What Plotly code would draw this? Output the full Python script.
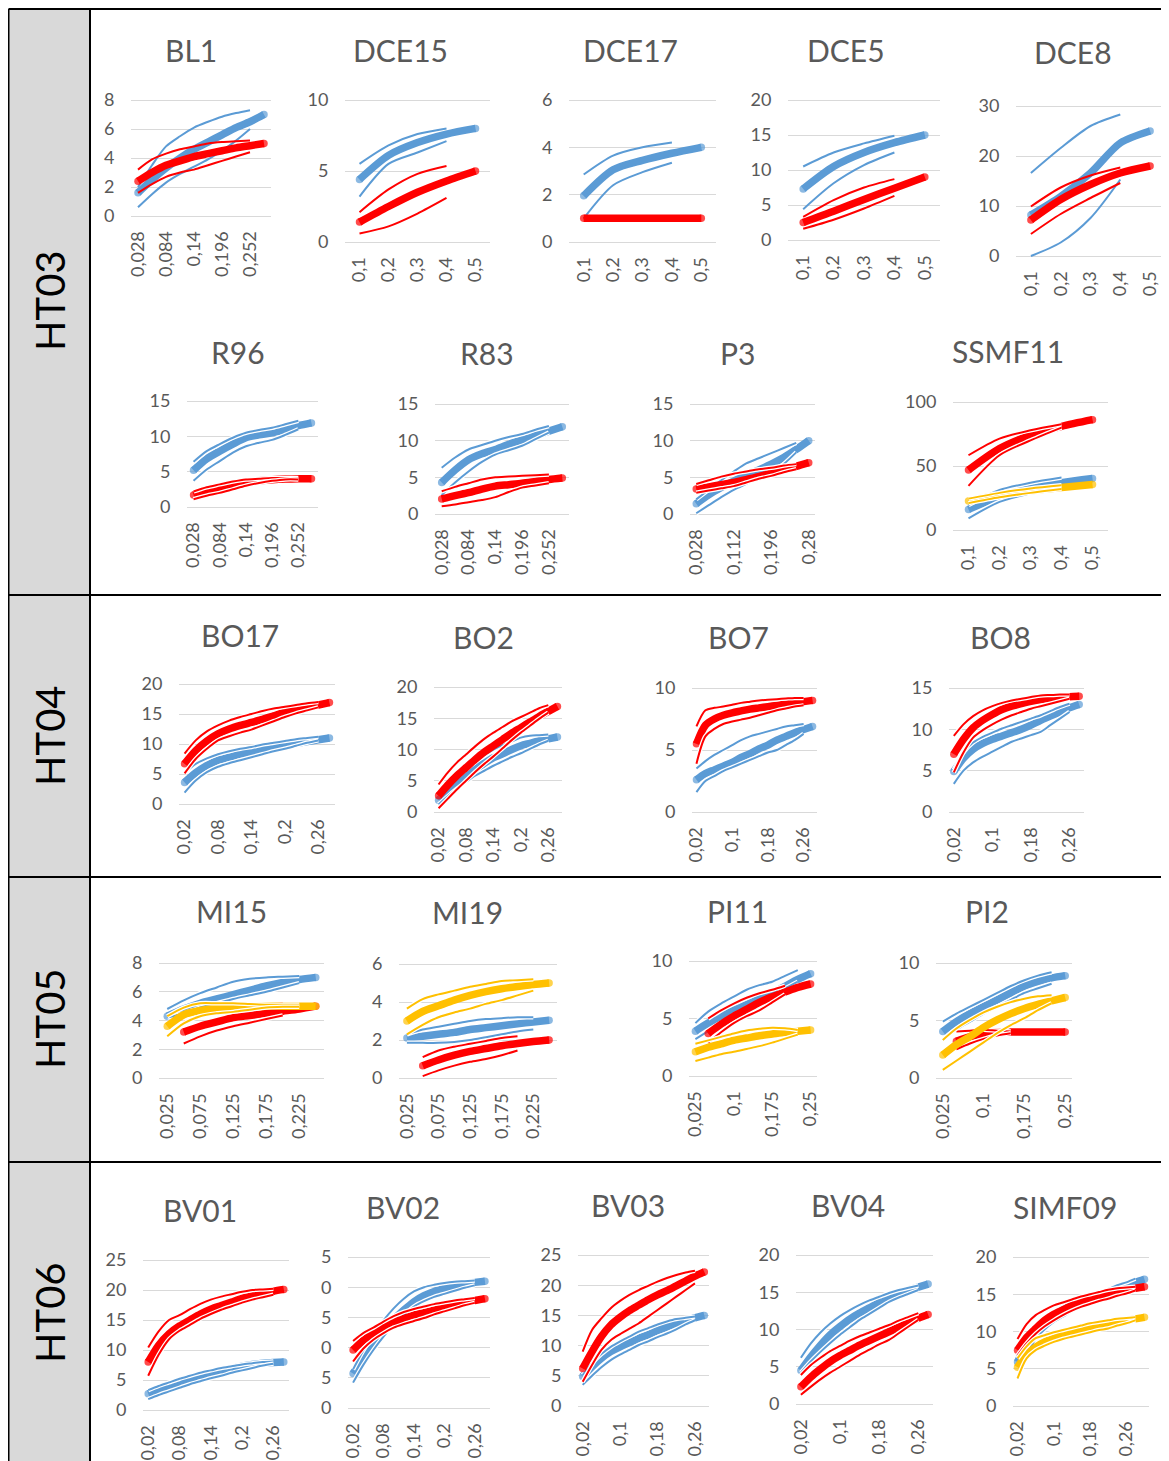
import plotly.graph_objects as go

W, H = 1169, 1461          # page size (reference pixels)
OFF = 8                    # browser body margin
FW, FH = W - OFF, H - OFF  # figure reaches the right and bottom page edges
BLUE = "#5B9BD5"
RED = "#FF0000"
YEL = "#FFC000"
GRID = "#D9D9D9"
TXT = "#595959"
FONT = "Lato"

# ---------------- categories and tick labels ----------------
X_A = [0.028, 0.056, 0.084, 0.112, 0.14, 0.168, 0.196, 0.224, 0.252, 0.28]
X_B = [0.1, 0.2, 0.3, 0.4, 0.5]
X_C = [0.02, 0.04, 0.06, 0.08, 0.1, 0.12, 0.14, 0.16, 0.18, 0.2, 0.22, 0.24, 0.26, 0.28]
X_D = [0.025, 0.05, 0.075, 0.1, 0.125, 0.15, 0.175, 0.2, 0.225, 0.25]
X_E = [0.02, 0.04, 0.06, 0.08, 0.1, 0.12, 0.14, 0.16, 0.18, 0.2, 0.22, 0.24, 0.26, 0.28, 0.3]

T_A2 = ["0,028", "0,084", "0,14", "0,196", "0,252"]
T_A3 = ["0,028", "0,112", "0,196", "0,28"]
T_B = ["0,1", "0,2", "0,3", "0,4", "0,5"]
T_C3 = ["0,02", "0,08", "0,14", "0,2", "0,26"]
T_C4 = ["0,02", "0,1", "0,18", "0,26"]
T_D2 = ["0,025", "0,075", "0,125", "0,175", "0,225"]
T_D3 = ["0,025", "0,1", "0,175", "0,25"]
BV02_YTEXT = ["0", "5", "0", "5", "0", "5"]

ROW_LABELS = ["HT03", "HT04", "HT05", "HT06"]

# ---------------- HT03 ----------------
BL1_B = [1.6, 2.5, 3.3, 4.0, 4.6, 5.1, 5.6, 6.1, 6.5, 7.0]
BL1_B_HI = [2.0, 3.5, 4.8, 5.5, 6.1, 6.5, 6.85, 7.1, 7.3]
BL1_B_LO = [0.6, 1.5, 2.3, 2.9, 3.4, 3.9, 4.5, 5.2, 6.0]
BL1_R = [2.4, 3.0, 3.5, 3.8, 4.1, 4.3, 4.5, 4.7, 4.85, 5.0]
BL1_R_HI = [3.2, 3.9, 4.3, 4.6, 4.8, 5.0, 5.1, 5.15, 5.2]
BL1_R_LO = [1.6, 2.2, 2.7, 3.0, 3.2, 3.5, 3.8, 4.1, 4.4]

DCE15_B = [4.4, 6.1, 7.0, 7.6, 8.0]
DCE15_B_HI = [5.5, 6.8, 7.6, 8.0]
DCE15_B_LO = [3.2, 5.5, 6.3, 7.1]
DCE15_R = [1.4, 2.5, 3.5, 4.3, 5.0]
DCE15_R_HI = [2.1, 3.7, 4.8, 5.35]
DCE15_R_LO = [0.6, 1.1, 2.0, 3.1]

DCE17_B = [1.95, 3.05, 3.45, 3.75, 4.0]
DCE17_B_HI = [2.85, 3.65, 4.0, 4.2]
DCE17_B_LO = [1.0, 2.4, 2.95, 3.35]
DCE17_R = [1.0, 1.0, 1.0, 1.0, 1.0]
DCE17_R_HI = [1.0, 1.0, 1.0, 1.0]
DCE17_R_LO = [1.0, 1.0, 1.0, 1.0]

DCE5_B = [7.3, 10.5, 12.5, 13.9, 15.0]
DCE5_B_HI = [10.5, 12.5, 13.8, 14.9]
DCE5_B_LO = [4.4, 8.1, 10.7, 12.5]
DCE5_R = [2.5, 4.1, 5.8, 7.4, 9.0]
DCE5_R_HI = [3.3, 5.7, 7.5, 8.7]
DCE5_R_LO = [1.6, 2.9, 4.5, 6.3]

DCE8_B = [8.2, 11.9, 16.6, 22.6, 25.0]
DCE8_B_HI = [16.6, 21.6, 26.0, 28.3]
DCE8_B_LO = [0.0, 2.7, 7.6, 15.3]
DCE8_R = [7.2, 11.3, 14.3, 16.6, 18.0]
DCE8_R_HI = [9.9, 13.7, 16.1, 17.7]
DCE8_R_LO = [4.4, 8.4, 11.6, 14.6]

R96_B = [5.2, 6.8, 7.9, 8.9, 9.8, 10.2, 10.5, 11.0, 11.5, 11.9]
R96_B_HI = [6.4, 7.9, 8.9, 9.8, 10.5, 10.9, 11.2, 11.7, 12.2]
R96_B_LO = [3.7, 5.3, 6.5, 7.7, 8.6, 9.1, 9.5, 10.2, 11.0]
R96_R = [1.7, 2.3, 2.7, 3.1, 3.5, 3.7, 3.85, 3.95, 4.0, 4.0]
R96_R_HI = [2.2, 2.8, 3.2, 3.6, 3.9, 4.0, 4.1, 4.1, 4.1]
R96_R_LO = [1.1, 1.6, 2.0, 2.5, 3.0, 3.4, 3.7, 3.9, 3.9]

R83_B = [4.3, 6.0, 7.4, 8.2, 8.8, 9.5, 10.1, 10.7, 11.3, 11.9]
R83_B_HI = [6.3, 7.7, 8.8, 9.4, 10.0, 10.5, 10.9, 11.5, 12.0]
R83_B_LO = [2.6, 4.3, 5.8, 7.1, 8.1, 8.7, 9.3, 10.2, 11.1]
R83_R = [2.05, 2.5, 2.9, 3.4, 3.8, 4.0, 4.2, 4.45, 4.7, 4.9]
R83_R_HI = [3.1, 3.7, 4.2, 4.7, 5.0, 5.1, 5.2, 5.3, 5.4]
R83_R_LO = [1.05, 1.3, 1.6, 1.9, 2.3, 3.0, 3.6, 3.9, 4.2]

P3_B = [1.4, 2.6, 3.6, 4.5, 5.3, 6.0, 6.8, 7.7, 8.8, 10.0]
P3_B_HI = [2.0, 3.3, 4.6, 5.8, 6.9, 7.6, 8.3, 9.0, 9.7]
P3_B_LO = [0.1, 1.2, 2.3, 3.3, 4.1, 4.9, 5.5, 6.8, 8.4]
P3_R = [3.4, 3.7, 4.0, 4.3, 4.7, 5.1, 5.6, 6.1, 6.5, 7.0]
P3_R_HI = [4.1, 4.6, 5.1, 5.5, 5.8, 6.1, 6.3, 6.6, 6.8]
P3_R_LO = [2.9, 3.2, 3.5, 3.8, 4.3, 4.8, 5.2, 5.7, 6.1]

SSMF11_B = [16.1, 26.0, 32.5, 37.0, 40.3]
SSMF11_B_HI = [19.5, 31.2, 36.9, 41.0]
SSMF11_B_LO = [9.1, 22.0, 28.6, 33.8]
SSMF11_R = [46.8, 63.6, 74.0, 81.0, 86.2]
SSMF11_R_HI = [58.4, 71.4, 77.9, 82.6]
SSMF11_R_LO = [34.5, 58.4, 70.0, 80.0]
SSMF11_Y = [22.6, 27.3, 30.6, 33.2, 35.6]
SSMF11_Y_HI = [24.5, 29.0, 32.5, 35.0]
SSMF11_Y_LO = [21.0, 25.5, 29.0, 32.0]

# ---------------- HT04 ----------------
BO17_B = [3.6, 5.2, 6.4, 7.3, 7.8, 8.3, 8.7, 9.1, 9.5, 9.8, 10.1, 10.4, 10.7, 11.0]
BO17_B_HI = [5.2, 6.7, 7.6, 8.3, 8.8, 9.2, 9.5, 9.9, 10.2, 10.5, 10.8, 11.0, 11.2]
BO17_B_LO = [1.9, 3.9, 5.3, 6.2, 6.8, 7.3, 7.8, 8.3, 8.8, 9.2, 9.7, 10.2, 10.6]
BO17_R = [6.7, 8.9, 10.5, 11.7, 12.5, 13.1, 13.6, 14.1, 14.7, 15.3, 15.7, 16.1, 16.5, 16.9]
BO17_R_HI = [8.4, 10.6, 12.1, 13.1, 13.9, 14.5, 15.0, 15.5, 15.9, 16.2, 16.5, 16.8, 17.0]
BO17_R_LO = [5.1, 7.5, 9.2, 10.6, 11.3, 11.9, 12.4, 13.1, 13.8, 14.5, 15.1, 15.6, 16.1]

BO2_B = [1.9, 3.4, 4.7, 5.8, 6.8, 7.8, 8.7, 9.3, 10.0, 10.6, 11.0, 11.4, 11.7, 12.0]
BO2_B_HI = [2.6, 4.2, 5.6, 6.8, 8.0, 9.1, 10.0, 10.7, 11.3, 11.9, 12.2, 12.3, 12.4]
BO2_B_LO = [1.2, 2.5, 3.7, 4.8, 5.8, 6.6, 7.4, 8.1, 8.8, 9.4, 10.1, 10.8, 11.4]
BO2_R = [2.6, 4.3, 5.8, 7.1, 8.4, 9.6, 10.6, 11.6, 12.6, 13.5, 14.4, 15.3, 16.1, 16.9]
BO2_R_HI = [4.4, 6.3, 7.9, 9.2, 10.5, 11.7, 12.7, 13.6, 14.5, 15.2, 15.9, 16.6, 17.1]
BO2_R_LO = [0.6, 2.1, 3.6, 5.0, 6.4, 7.7, 8.9, 10.2, 11.5, 12.7, 13.8, 14.9, 15.9]

BO7_B = [2.6, 3.1, 3.4, 3.7, 4.0, 4.4, 4.7, 5.1, 5.4, 5.8, 6.1, 6.4, 6.65, 6.9]
BO7_B_HI = [3.5, 4.1, 4.6, 5.0, 5.4, 5.8, 6.1, 6.3, 6.5, 6.7, 6.9, 7.0, 7.1]
BO7_B_LO = [1.6, 2.5, 2.9, 3.3, 3.6, 3.9, 4.2, 4.5, 4.8, 5.0, 5.4, 5.8, 6.3]
BO7_R = [5.5, 7.0, 7.5, 7.8, 8.0, 8.15, 8.3, 8.4, 8.5, 8.6, 8.7, 8.8, 8.9, 9.0]
BO7_R_HI = [6.9, 8.2, 8.4, 8.5, 8.65, 8.8, 8.9, 9.0, 9.05, 9.1, 9.15, 9.2, 9.2]
BO7_R_LO = [3.9, 6.1, 6.7, 7.1, 7.3, 7.45, 7.6, 7.8, 8.0, 8.2, 8.35, 8.5, 8.6]

BO8_B = [4.9, 6.5, 7.6, 8.3, 8.8, 9.2, 9.6, 10.0, 10.5, 11.1, 11.6, 12.1, 12.6, 13.0]
BO8_B_HI = [5.1, 7.2, 8.4, 9.1, 9.6, 10.1, 10.5, 10.9, 11.3, 11.7, 12.2, 12.7, 13.1]
BO8_B_LO = [3.4, 5.0, 6.0, 6.7, 7.3, 7.9, 8.5, 8.9, 9.3, 9.7, 10.5, 11.3, 12.1]
BO8_R = [7.0, 8.8, 10.2, 11.1, 11.8, 12.4, 12.8, 13.1, 13.4, 13.6, 13.75, 13.85, 13.95, 14.0]
BO8_R_HI = [9.2, 10.6, 11.6, 12.3, 12.8, 13.2, 13.5, 13.7, 13.9, 14.1, 14.15, 14.2, 14.2]
BO8_R_LO = [4.8, 7.2, 9.0, 9.9, 10.6, 11.2, 11.7, 12.1, 12.5, 12.8, 13.1, 13.4, 13.7]

# ---------------- HT05 ----------------
MI15_B = [4.3, 4.8, 5.2, 5.5, 5.8, 6.1, 6.4, 6.65, 6.85, 7.0]
MI15_B_HI = [4.8, 5.4, 5.9, 6.3, 6.7, 6.9, 7.0, 7.05, 7.1]
MI15_B_LO = [4.2, 4.5, 4.9, 5.2, 5.5, 5.75, 6.0, 6.3, 6.6]
MI15_R = [None, 3.2, 3.6, 3.9, 4.2, 4.35, 4.5, 4.65, 4.8, 5.0]
MI15_R_HI = [None, 3.9, 4.3, 4.5, 4.7, 4.9, 5.1, 5.2]
MI15_R_LO = [None, 2.4, 2.9, 3.3, 3.6, 3.85, 4.1, 4.35]
MI15_Y = [3.6, 4.4, 4.7, 4.85, 4.9, 4.95, 5.0, 5.0, 5.0, 5.0]
MI15_Y_HI = [4.3, 4.9, 5.2, 5.2, 5.2, 5.15, 5.1, 5.1, 5.1]
MI15_Y_LO = [2.9, 3.8, 4.3, 4.5, 4.6, 4.75, 4.9, 4.95, 4.95]

MI19_B = [2.1, 2.2, 2.3, 2.4, 2.55, 2.65, 2.75, 2.85, 2.95, 3.04]
MI19_B_HI = [2.3, 2.55, 2.7, 2.85, 3.0, 3.1, 3.15, 3.2, 3.2]
MI19_B_LO = [1.85, 1.85, 1.85, 1.9, 2.0, 2.15, 2.3, 2.45, 2.55]
MI19_R = [None, 0.65, 0.95, 1.2, 1.4, 1.55, 1.7, 1.82, 1.92, 2.0]
MI19_R_HI = [None, 1.1, 1.45, 1.65, 1.8, 1.95, 2.1, 2.2]
MI19_R_LO = [None, 0.1, 0.4, 0.65, 0.85, 1.0, 1.2, 1.45]
MI19_Y = [3.0, 3.5, 3.8, 4.1, 4.35, 4.55, 4.7, 4.82, 4.92, 5.0]
MI19_Y_HI = [3.65, 4.15, 4.4, 4.6, 4.8, 4.95, 5.1, 5.15, 5.2]
MI19_Y_LO = [2.3, 2.8, 3.2, 3.45, 3.65, 3.9, 4.1, 4.35, 4.6]

PI11_B = [3.9, 4.6, 5.2, 5.7, 6.2, 6.7, 7.2, 7.8, 8.4, 8.9]
PI11_B_HI = [4.6, 5.6, 6.3, 6.9, 7.5, 7.9, 8.2, 8.7, 9.2]
PI11_B_LO = [3.2, 3.9, 4.6, 5.1, 5.6, 6.2, 6.9, 7.6, 8.2]
PI11_R = [None, 3.7, 4.5, 5.2, 5.8, 6.4, 6.9, 7.3, 7.7, 8.0]
PI11_R_HI = [None, 5.0, 5.7, 6.3, 6.8, 7.2, 7.5, 7.85]
PI11_R_LO = [None, 2.9, 3.8, 4.6, 5.2, 5.7, 6.4, 7.1]
PI11_Y = [2.1, 2.5, 2.8, 3.1, 3.3, 3.5, 3.65, 3.8, 3.9, 4.0]
PI11_Y_HI = [2.8, 3.1, 3.4, 3.7, 3.95, 4.1, 4.2, 4.15, 4.0]
PI11_Y_LO = [1.3, 1.6, 1.9, 2.1, 2.35, 2.6, 2.9, 3.25, 3.6]

PI2_B = [4.05, 4.9, 5.6, 6.2, 6.8, 7.4, 8.0, 8.4, 8.7, 8.9]
PI2_B_HI = [4.9, 5.6, 6.2, 6.8, 7.4, 8.0, 8.5, 8.9, 9.2]
PI2_B_LO = [3.3, 4.2, 4.9, 5.6, 6.2, 6.8, 7.4, 7.8, 8.2]
PI2_R = [None, 3.2, 3.6, 3.85, 3.95, 4.0, 4.0, 4.0, 4.0, 4.0]
PI2_R_HI = [None, 4.05, 4.1, 4.2, 4.1, 4.05]
PI2_R_LO = [None, 2.5, 3.0, 3.4, 3.7, 3.9]
PI2_Y = [2.0, 2.9, 3.6, 4.4, 5.05, 5.6, 6.05, 6.4, 6.7, 7.0]
PI2_Y_HI = [3.3, 4.3, 5.05, 5.7, 6.2, 6.6, 6.9, 7.1, 7.2]
PI2_Y_LO = [0.7, 1.5, 2.3, 3.1, 3.9, 4.6, 5.2, 5.9, 6.5]

# ---------------- HT06 ----------------
BV01_B = [2.7, 3.3, 3.9, 4.4, 5.0, 5.6, 6.1, 6.5, 6.9, 7.3, 7.6, 7.8, 7.9, 8.0]
BV01_B_HI = [3.3, 4.0, 4.6, 5.2, 5.7, 6.2, 6.6, 7.0, 7.3, 7.6, 7.8, 8.0, 8.1]
BV01_B_LO = [1.8, 2.5, 3.1, 3.7, 4.3, 4.8, 5.3, 5.7, 6.2, 6.6, 7.0, 7.4, 7.7]
BV01_R = [8.0, 10.8, 12.7, 14.0, 15.0, 16.0, 16.8, 17.4, 18.0, 18.6, 19.0, 19.4, 19.8, 20.1]
BV01_R_HI = [10.4, 13.1, 15.0, 15.8, 16.8, 17.7, 18.4, 18.9, 19.3, 19.7, 20.0, 20.1, 20.2]
BV01_R_LO = [5.7, 9.2, 11.8, 13.2, 14.2, 15.2, 16.0, 16.7, 17.3, 17.9, 18.4, 18.8, 19.2]

BV02_B = [5.7, 8.3, 10.4, 12.6, 14.6, 16.2, 17.6, 18.6, 19.3, 19.8, 20.3, 20.6, 20.8, 21.0]
BV02_B_HI = [6.4, 9.5, 12.1, 14.5, 16.5, 18.1, 19.3, 20.0, 20.4, 20.7, 20.9, 21.0, 21.1]
BV02_B_LO = [4.2, 7.1, 9.6, 11.8, 13.8, 15.4, 16.8, 17.7, 18.4, 18.9, 19.4, 19.9, 20.3]
BV02_R = [9.6, 11.2, 12.4, 13.4, 14.2, 14.8, 15.4, 15.8, 16.2, 16.7, 17.1, 17.5, 17.8, 18.1]
BV02_R_HI = [11.1, 12.4, 13.3, 14.3, 15.2, 15.9, 16.4, 16.8, 17.2, 17.5, 17.8, 18.0, 18.2]
BV02_R_LO = [7.7, 9.8, 11.3, 12.4, 13.3, 13.9, 14.4, 14.9, 15.5, 16.0, 16.5, 17.0, 17.4]

BV03_B = [4.9, 6.5, 7.9, 9.0, 9.8, 10.5, 11.2, 11.8, 12.5, 13.1, 13.6, 14.1, 14.6, 15.0]
BV03_B_HI = [5.1, 7.1, 8.6, 9.8, 10.7, 11.5, 12.3, 12.9, 13.5, 14.0, 14.4, 14.6, 14.8]
BV03_B_LO = [3.5, 5.0, 6.4, 7.6, 8.5, 9.3, 10.1, 10.7, 11.4, 12.0, 12.7, 13.5, 14.2]
BV03_R = [6.2, 9.0, 11.5, 13.4, 14.7, 15.8, 16.7, 17.6, 18.4, 19.1, 19.9, 20.7, 21.5, 22.2]
BV03_R_HI = [9.0, 12.6, 14.5, 16.2, 17.4, 18.4, 19.2, 19.9, 20.6, 21.2, 21.7, 22.1, 22.4]
BV03_R_LO = [4.0, 6.8, 9.3, 10.9, 11.9, 12.8, 13.7, 14.8, 15.9, 17.0, 18.1, 19.2, 20.3]

BV04_B = [4.5, 6.3, 7.9, 9.3, 10.4, 11.4, 12.2, 12.9, 13.6, 14.2, 14.8, 15.3, 15.7, 16.1]
BV04_B_HI = [6.2, 8.1, 9.6, 10.8, 11.8, 12.6, 13.3, 13.9, 14.4, 14.9, 15.3, 15.6, 15.9]
BV04_B_LO = [4.2, 5.7, 7.0, 8.2, 9.3, 10.3, 11.3, 12.1, 12.9, 13.7, 14.3, 14.8, 15.3]
BV04_R = [2.3, 3.6, 4.7, 5.7, 6.5, 7.2, 7.9, 8.5, 9.1, 9.7, 10.3, 10.9, 11.5, 12.0]
BV04_R_HI = [3.9, 5.2, 6.2, 7.1, 7.8, 8.5, 9.1, 9.6, 10.1, 10.6, 11.2, 11.7, 12.2]
BV04_R_LO = [1.25, 2.3, 3.3, 4.2, 5.0, 5.8, 6.6, 7.3, 8.0, 8.6, 9.5, 10.4, 11.3]

SIMF09_B = [5.9, 8.3, 9.9, 11.0, 11.9, 12.6, 13.2, 13.7, 14.2, 14.7, 15.1, 15.6, 16.1, 16.6, 17.0]
SIMF09_B_HI = [6.8, 9.2, 10.8, 11.8, 12.6, 13.3, 13.9, 14.4, 14.9, 15.3, 15.7, 16.2, 16.6, 17.1]
SIMF09_B_LO = [3.7, 6.8, 9.0, 10.3, 11.3, 12.0, 12.7, 13.3, 13.8, 14.1, 14.4, 14.9, 15.5, 16.0]
SIMF09_R = [7.5, 9.2, 10.4, 11.5, 12.3, 12.9, 13.5, 14.0, 14.4, 14.8, 15.1, 15.4, 15.6, 15.8, 16.0]
SIMF09_R_HI = [9.0, 11.0, 12.2, 12.9, 13.5, 13.9, 14.3, 14.7, 15.0, 15.3, 15.6, 15.8, 15.9, 16.0]
SIMF09_R_LO = [6.8, 8.4, 9.7, 10.7, 11.5, 12.2, 12.8, 13.3, 13.7, 14.1, 14.4, 14.8, 15.1, 15.5]
SIMF09_Y = [5.2, 6.9, 7.9, 8.6, 9.1, 9.5, 9.9, 10.2, 10.5, 10.8, 11.1, 11.3, 11.5, 11.7, 11.9]
SIMF09_Y_HI = [6.4, 8.0, 9.1, 9.5, 9.9, 10.2, 10.5, 10.8, 11.1, 11.3, 11.5, 11.7, 11.8, 11.9]
SIMF09_Y_LO = [3.7, 6.4, 7.5, 8.1, 8.6, 9.0, 9.3, 9.6, 9.9, 10.2, 10.4, 10.8, 11.1, 11.5]

# ---------------- chart definitions (layout in reference pixels) ----------------
CHARTS = [
    dict(title="BL1", cats=X_A, ticks=T_A2, ymax=8, ystep=2, box=(131, 271, 100, 216), tpos=(191, 50), halo=False,
         series=[(BLUE, BL1_B, BL1_B_HI, BL1_B_LO), (RED, BL1_R, BL1_R_HI, BL1_R_LO)]),
    dict(title="DCE15", cats=X_B, ticks=T_B, ymax=10, ystep=5, box=(345, 490, 100, 242), tpos=(400, 50), halo=False,
         series=[(BLUE, DCE15_B, DCE15_B_HI, DCE15_B_LO), (RED, DCE15_R, DCE15_R_HI, DCE15_R_LO)]),
    dict(title="DCE17", cats=X_B, ticks=T_B, ymax=6, ystep=2, box=(569, 716, 100, 242), tpos=(630, 50), halo=False,
         series=[(BLUE, DCE17_B, DCE17_B_HI, DCE17_B_LO), (RED, DCE17_R, DCE17_R_HI, DCE17_R_LO)]),
    dict(title="DCE5", cats=X_B, ticks=T_B, ymax=20, ystep=5, box=(788, 940, 100, 240), tpos=(846, 50), halo=False,
         series=[(BLUE, DCE5_B, DCE5_B_HI, DCE5_B_LO), (RED, DCE5_R, DCE5_R_HI, DCE5_R_LO)]),
    dict(title="DCE8", cats=X_B, ticks=T_B, ymax=30, ystep=10, box=(1016, 1165, 106, 256), tpos=(1073, 52), halo=False,
         series=[(BLUE, DCE8_B, DCE8_B_HI, DCE8_B_LO), (RED, DCE8_R, DCE8_R_HI, DCE8_R_LO)]),
    dict(title="R96", cats=X_A, ticks=T_A2, ymax=15, ystep=5, box=(187, 318, 401, 507), tpos=(238, 352), halo=True,
         series=[(BLUE, R96_B, R96_B_HI, R96_B_LO), (RED, R96_R, R96_R_HI, R96_R_LO)]),
    dict(title="R83", cats=X_A, ticks=T_A2, ymax=15, ystep=5, box=(435, 569, 404, 514), tpos=(487, 353), halo=True,
         series=[(BLUE, R83_B, R83_B_HI, R83_B_LO), (RED, R83_R, R83_R_HI, R83_R_LO)]),
    dict(title="P3", cats=X_A, ticks=T_A3, ymax=15, ystep=5, box=(690, 815, 404, 514), tpos=(737, 353), halo=True,
         series=[(BLUE, P3_B, P3_B_HI, P3_B_LO), (RED, P3_R, P3_R_HI, P3_R_LO)]),
    dict(title="SSMF11", cats=X_B, ticks=T_B, ymax=100, ystep=50, box=(953, 1108, 402, 530), tpos=(1008, 351), halo=True,
         series=[(BLUE, SSMF11_B, SSMF11_B_HI, SSMF11_B_LO), (RED, SSMF11_R, SSMF11_R_HI, SSMF11_R_LO),
                 (YEL, SSMF11_Y, SSMF11_Y_HI, SSMF11_Y_LO)]),
    dict(title="BO17", cats=X_C, ticks=T_C3, ymax=20, ystep=5, box=(179, 335, 684, 804), tpos=(240, 635), halo=True,
         series=[(BLUE, BO17_B, BO17_B_HI, BO17_B_LO), (RED, BO17_R, BO17_R_HI, BO17_R_LO)]),
    dict(title="BO2", cats=X_C, ticks=T_C3, ymax=20, ystep=5, box=(434, 562, 687, 812), tpos=(483, 637), halo=True,
         series=[(BLUE, BO2_B, BO2_B_HI, BO2_B_LO), (RED, BO2_R, BO2_R_HI, BO2_R_LO)]),
    dict(title="BO7", cats=X_C, ticks=T_C4, ymax=10, ystep=5, box=(692, 817, 688, 812), tpos=(738, 637), halo=True,
         series=[(BLUE, BO7_B, BO7_B_HI, BO7_B_LO), (RED, BO7_R, BO7_R_HI, BO7_R_LO)]),
    dict(title="BO8", cats=X_C, ticks=T_C4, ymax=15, ystep=5, box=(949, 1084, 688, 812), tpos=(1000, 637), halo=True,
         series=[(BLUE, BO8_B, BO8_B_HI, BO8_B_LO), (RED, BO8_R, BO8_R_HI, BO8_R_LO)]),
    dict(title="MI15", cats=X_D, ticks=T_D2, ymax=8, ystep=2, box=(159, 324, 963, 1078), tpos=(231, 911), halo=True,
         series=[(BLUE, MI15_B, MI15_B_HI, MI15_B_LO), (RED, MI15_R, MI15_R_HI, MI15_R_LO),
                 (YEL, MI15_Y, MI15_Y_HI, MI15_Y_LO)]),
    dict(title="MI19", cats=X_D, ticks=T_D2, ymax=6, ystep=2, box=(399, 557, 964, 1078), tpos=(467, 912), halo=True,
         series=[(BLUE, MI19_B, MI19_B_HI, MI19_B_LO), (RED, MI19_R, MI19_R_HI, MI19_R_LO),
                 (YEL, MI19_Y, MI19_Y_HI, MI19_Y_LO)]),
    dict(title="PI11", cats=X_D, ticks=T_D3, ymax=10, ystep=5, box=(689, 817, 961, 1076), tpos=(737, 911), halo=True,
         series=[(BLUE, PI11_B, PI11_B_HI, PI11_B_LO), (RED, PI11_R, PI11_R_HI, PI11_R_LO),
                 (YEL, PI11_Y, PI11_Y_HI, PI11_Y_LO)]),
    dict(title="PI2", cats=X_D, ticks=T_D3, ymax=10, ystep=5, box=(936, 1072, 963, 1078), tpos=(987, 911), halo=True,
         series=[(BLUE, PI2_B, PI2_B_HI, PI2_B_LO), (RED, PI2_R, PI2_R_HI, PI2_R_LO),
                 (YEL, PI2_Y, PI2_Y_HI, PI2_Y_LO)]),
    dict(title="BV01", cats=X_C, ticks=T_C3, ymax=25, ystep=5, box=(143, 289, 1260, 1410), tpos=(200, 1210), halo=True,
         series=[(BLUE, BV01_B, BV01_B_HI, BV01_B_LO), (RED, BV01_R, BV01_R_HI, BV01_R_LO)]),
    dict(title="BV02", cats=X_C, ticks=T_C3, ymax=25, ystep=5, box=(348, 490, 1257, 1408), tpos=(403, 1207), halo=True,
         yticktext=BV02_YTEXT,
         series=[(BLUE, BV02_B, BV02_B_HI, BV02_B_LO), (RED, BV02_R, BV02_R_HI, BV02_R_LO)]),
    dict(title="BV03", cats=X_C, ticks=T_C4, ymax=25, ystep=5, box=(578, 709, 1255, 1406), tpos=(628, 1205), halo=True,
         series=[(BLUE, BV03_B, BV03_B_HI, BV03_B_LO), (RED, BV03_R, BV03_R_HI, BV03_R_LO)]),
    dict(title="BV04", cats=X_C, ticks=T_C4, ymax=20, ystep=5, box=(796, 933, 1255, 1404), tpos=(848, 1205), halo=True,
         series=[(BLUE, BV04_B, BV04_B_HI, BV04_B_LO), (RED, BV04_R, BV04_R_HI, BV04_R_LO)]),
    dict(title="SIMF09", cats=X_E, ticks=T_C4, ymax=20, ystep=5, box=(1013, 1149, 1257, 1406), tpos=(1065, 1207), halo=True,
         series=[(BLUE, SIMF09_B, SIMF09_B_HI, SIMF09_B_LO), (RED, SIMF09_R, SIMF09_R_HI, SIMF09_R_LO),
                 (YEL, SIMF09_Y, SIMF09_Y_HI, SIMF09_Y_LO)]),
]
ROW_POS = [(50, 301), (50, 736), (50, 1019), (50, 1313)]


def lab(v):
    return ("%g" % v).replace(".", ",")


def px(x):
    return (x - OFF) / FW


def py(y):
    return 1 - (y - OFF) / FH


def clamp(v):
    return min(1.0, max(0.0, v))


fig = go.Figure()
layout_axes = {}
annotations = []
THICK = 7.5
THIN = 2

for i, ch in enumerate(CHARTS):
    n = i + 1
    xa = "x" if n == 1 else "x%d" % n
    ya = "y" if n == 1 else "y%d" % n
    cats = [lab(v) for v in ch["cats"]]
    nc = len(cats)
    l, r, t, b = ch["box"]
    r_vis = min(r, OFF + FW)                # keep the domain inside the figure
    x_end = -0.5 + nc * (r_vis - l) / (r - l)
    pad = 5
    ppu = (b - t) / ch["ymax"]
    ext = pad / ppu
    tickfont = dict(family=FONT, size=18, color=TXT)
    layout_axes["xaxis" if n == 1 else "xaxis%d" % n] = dict(
        domain=[clamp(px(l)), clamp(px(r_vis))], anchor=ya, type="category", categoryorder="array",
        categoryarray=cats, range=[-0.5, x_end], tickmode="array",
        tickvals=ch["ticks"], ticktext=ch["ticks"], tickangle=-90, ticks="outside",
        ticklen=2, tickcolor="rgba(0,0,0,0)", showgrid=False, zeroline=False,
        showline=False, tickfont=tickfont, fixedrange=True, automargin=False)
    yt = list(range(0, ch["ymax"] + 1, ch["ystep"]))
    layout_axes["yaxis" if n == 1 else "yaxis%d" % n] = dict(
        domain=[clamp(py(b + pad)), clamp(py(t - pad))], anchor=xa, range=[-ext, ch["ymax"] + ext],
        tickmode="array", tickvals=yt, ticktext=ch.get("yticktext", [str(v) for v in yt]),
        showgrid=True, gridcolor=GRID, gridwidth=1, zeroline=False, showline=False,
        ticks="outside", ticklen=12, tickcolor="rgba(0,0,0,0)", tickfont=tickfont,
        fixedrange=True, automargin=False)

    for color, mean, hi, lo in ch["series"]:
        valid = [k for k, v in enumerate(mean) if v is not None]
        sizes = [THICK if k in (valid[0], valid[-1]) else 0 for k in range(len(mean))]
        fig.add_trace(go.Scatter(
            x=cats[:len(mean)], y=mean, mode="lines+markers",
            line=dict(color=color, width=THICK, shape="spline", smoothing=0.8),
            marker=dict(size=sizes, color=color, line=dict(width=0)),
            xaxis=xa, yaxis=ya, hoverinfo="skip", showlegend=False))
        for s in (hi, lo):
            if ch["halo"]:
                fig.add_trace(go.Scatter(
                    x=cats[:len(s)], y=s, mode="lines",
                    line=dict(color="white", width=THIN + 2.5, shape="spline", smoothing=0.8),
                    xaxis=xa, yaxis=ya, hoverinfo="skip", showlegend=False))
            fig.add_trace(go.Scatter(
                x=cats[:len(s)], y=s, mode="lines",
                line=dict(color=color, width=THIN, shape="spline", smoothing=0.8),
                xaxis=xa, yaxis=ya, hoverinfo="skip", showlegend=False))

    annotations.append(dict(text=ch["title"], x=px(ch["tpos"][0]), y=py(ch["tpos"][1]),
                            xref="paper", yref="paper", xanchor="center", yanchor="middle",
                            showarrow=False, font=dict(family=FONT, size=30, color=TXT)))

for label, (rx, ry) in zip(ROW_LABELS, ROW_POS):
    annotations.append(dict(text=label, x=px(rx), y=py(ry), xref="paper", yref="paper",
                            xanchor="center", yanchor="middle", textangle=-90, showarrow=False,
                            font=dict(family=FONT, size=40, color="black")))

shapes = [
    dict(type="rect", xref="paper", yref="paper", x0=px(8.5), x1=px(90), y0=py(H + 10), y1=py(9),
         fillcolor="#D9D9D9", line=dict(width=0), layer="below"),
]
for xv in (8.5, 90):
    shapes.append(dict(type="line", xref="paper", yref="paper", x0=px(xv), x1=px(xv),
                       y0=py(H + 10), y1=py(9), line=dict(color="black", width=2)))
for yv in (9, 595, 877, 1162):
    shapes.append(dict(type="line", xref="paper", yref="paper", x0=px(8.5), x1=px(W + 10),
                       y0=py(yv), y1=py(yv), line=dict(color="black", width=2)))

fig.update_layout(
    width=FW, height=FH, margin=dict(l=0, r=0, t=0, b=0, autoexpand=False),
    paper_bgcolor="white", plot_bgcolor="rgba(0,0,0,0)", showlegend=False,
    annotations=annotations, shapes=shapes, font=dict(family=FONT), **layout_axes)

fig.write_html("out.html", config={"displayModeBar": False})
